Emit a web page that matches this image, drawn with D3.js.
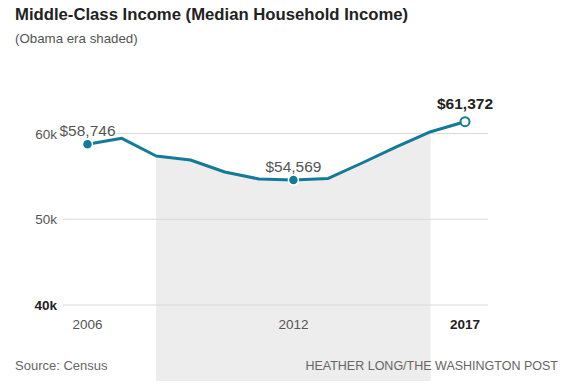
<!DOCTYPE html>
<html>
<head>
<meta charset="utf-8">
<style>
  body { margin: 0; background: #fff; }
  svg text { font-family: "Liberation Sans", Arial, sans-serif; }
</style>
</head>
<body>
<svg width="583" height="391"></svg>
<script src="https://cdn.jsdelivr.net/npm/d3@7/dist/d3.min.js"></script>
<script>

const years = [2006, 2007, 2008, 2009, 2010, 2011, 2012, 2013, 2014, 2015, 2016, 2017];
const income = [58746, 59440, 57380, 56910, 55510, 54690, 54569, 54740, 56560, 58430, 60210, 61372];
const yTicks = [40000, 50000, 60000];
const xTicks = [2006, 2012, 2017];
const shadeYears = [2008, 2016];
const labelled = [
  { year: 2006, text: "$58,746", bold: false },
  { year: 2012, text: "$54,569", bold: false },
  { year: 2017, text: "$61,372", bold: true }
];

const svg = d3.select("svg");
const teal = "#137b98";

const x = d3.scaleLinear().domain([2006, 2017]).range([87.5, 465]);
const y = d3.scaleLinear().domain([40000, 60000]).range([305, 133.5]);
const data = years.map((yr, i) => ({ year: yr, value: income[i] }));

// shaded Obama era, under the line down to the bottom
const shadeData = data.filter(d => d.year >= shadeYears[0] && d.year <= shadeYears[1]);
svg.append("path")
  .datum(shadeData)
  .attr("fill", "#ededed")
  .attr("d", d3.area().x(d => x(d.year)).y0(381).y1(d => y(d.value)));

// gridlines
svg.append("g")
  .selectAll("line")
  .data(yTicks)
  .enter()
  .append("line")
  .attr("x1", 63)
  .attr("x2", 488)
  .attr("y1", d => y(d))
  .attr("y2", d => y(d))
  .attr("stroke", "#d9d9d9")
  .attr("stroke-width", 1);

// y tick labels
svg.append("g")
  .selectAll("text")
  .data(yTicks)
  .enter()
  .append("text")
  .attr("x", 57)
  .attr("y", d => y(d) + 5)
  .attr("text-anchor", "end")
  .attr("font-size", 13.5)
  .attr("font-weight", d => d === 40000 ? "bold" : "normal")
  .attr("fill", d => d === 40000 ? "#222" : "#555")
  .text(d => d3.format("d")(d / 1000) + "k");

// x tick labels
svg.append("g")
  .selectAll("text")
  .data(xTicks)
  .enter()
  .append("text")
  .attr("x", d => x(d))
  .attr("y", 329)
  .attr("text-anchor", "middle")
  .attr("font-size", 13.5)
  .attr("font-weight", d => d === 2017 ? "bold" : "normal")
  .attr("fill", d => d === 2017 ? "#222" : "#555")
  .text(d => d);

// value labels with white backing
svg.append("g")
  .selectAll("text")
  .data(labelled)
  .enter()
  .append("text")
  .attr("x", d => d.year === 2006 ? x(d.year) - 28 : x(d.year))
  .attr("y", d => y(income[years.indexOf(d.year)]) - (d.bold ? 13 : 8))
  .attr("text-anchor", d => d.year === 2006 ? "start" : "middle")
  .attr("font-size", 15.5)
  .attr("font-weight", d => d.bold ? "bold" : "normal")
  .attr("fill", d => d.bold ? "#222" : "#555")
  .attr("stroke", "#fff")
  .attr("stroke-width", 3)
  .attr("paint-order", "stroke")
  .text(d => d.text);

// line
svg.append("path")
  .datum(data)
  .attr("fill", "none")
  .attr("stroke", teal)
  .attr("stroke-width", 3)
  .attr("stroke-linejoin", "round")
  .attr("d", d3.line().x(d => x(d.year)).y(d => y(d.value)));

// dots
svg.append("g")
  .selectAll("circle")
  .data(labelled)
  .enter()
  .append("circle")
  .attr("cx", d => x(d.year))
  .attr("cy", d => y(income[years.indexOf(d.year)]))
  .attr("r", d => d.bold ? 4.5 : 5)
  .attr("fill", d => d.bold ? "#fff" : teal)
  .attr("stroke", d => d.bold ? teal : "#fff")
  .attr("stroke-width", d => d.bold ? 2 : 1.5);

// titles
svg.append("text")
  .attr("x", 15).attr("y", 20)
  .attr("font-size", 16.7)
  .attr("font-weight", "bold")
  .attr("fill", "#222")
  .text("Middle-Class Income (Median Household Income)");

svg.append("text")
  .attr("x", 15).attr("y", 43)
  .attr("font-size", 13.3)
  .attr("fill", "#555")
  .text("(Obama era shaded)");

// footer
svg.append("text")
  .attr("x", 15).attr("y", 370)
  .attr("font-size", 13)
  .attr("fill", "#666")
  .text("Source: Census");

svg.append("text")
  .attr("x", 558).attr("y", 370)
  .attr("text-anchor", "end")
  .attr("font-size", 12.5)
  .attr("fill", "#666")
  .text("HEATHER LONG/THE WASHINGTON POST");

</script>
</body>
</html>
